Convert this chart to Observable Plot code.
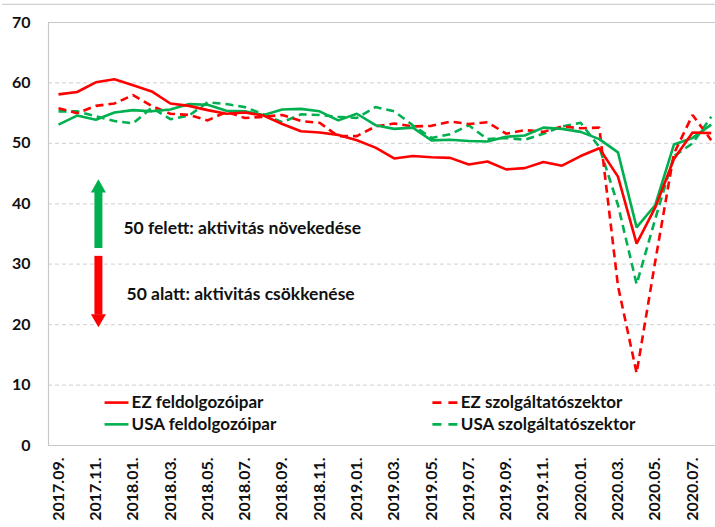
<!DOCTYPE html>
<html><head><meta charset="utf-8">
<script src="https://cdn.jsdelivr.net/npm/d3@7"></script>
<script src="https://cdn.jsdelivr.net/npm/@observablehq/plot@0.6"></script>
<style>body{margin:0;background:#fff;} svg{display:block}</style>
</head><body><div id="chart"></div>
<script>
const months = ["2017.09.","2017.10.","2017.11.","2017.12.",
 "2018.01.","2018.02.","2018.03.","2018.04.","2018.05.","2018.06.","2018.07.","2018.08.","2018.09.","2018.10.","2018.11.","2018.12.",
 "2019.01.","2019.02.","2019.03.","2019.04.","2019.05.","2019.06.","2019.07.","2019.08.","2019.09.","2019.10.","2019.11.","2019.12.",
 "2020.01.","2020.02.","2020.03.","2020.04.","2020.05.","2020.06.","2020.07.","2020.08."];
const ezMan = [58.1,58.5,60.1,60.6, 59.6,58.6,56.6,56.2,55.5,54.9,55.1,54.6,53.2,52.0,51.8,51.4, 50.5,49.3,47.5,47.9,47.7,47.6,46.5,47.0,45.7,45.9,46.9,46.3, 47.9,49.2,44.5,33.4,39.4,47.4,51.8,51.7];
const ezSer = [55.8,55.0,56.2,56.6, 58.0,56.2,54.9,54.7,53.8,55.2,54.2,54.4,54.7,53.7,53.4,51.2, 51.2,52.8,53.3,52.8,52.9,53.6,53.2,53.5,51.6,52.2,51.9,52.8, 52.5,52.6,26.4,12.0,30.5,48.3,54.7,50.5];
const usMan = [53.1,54.6,53.9,55.1, 55.5,55.3,55.6,56.5,56.4,55.4,55.3,54.7,55.6,55.7,55.3,53.8, 54.9,53.0,52.4,52.6,50.5,50.6,50.4,50.3,51.1,51.3,52.6,52.4, 51.9,50.7,48.5,36.1,39.8,49.8,50.9,53.1];
const usSer = [55.3,55.3,54.5,53.7, 53.3,55.9,54.0,54.6,56.8,56.5,56.0,54.8,53.5,54.8,54.7,54.4, 54.2,56.0,55.3,53.0,50.9,51.5,53.0,50.7,50.9,50.6,51.6,52.8, 53.4,49.4,39.8,26.7,37.5,47.9,50.0,54.4];
const seriesNames = ["EZ feldolgozóipar","EZ szolgáltatószektor","USA feldolgozóipar","USA szolgáltatószektor"];
const yTicks = [0,10,20,30,40,50,60,70];
const noteUp = "50 felett: aktivitás növekedése";
const noteDown = "50 alatt: aktivitás csökkenése";

const RED = "#ff0000", GREEN = "#00b050";
const styles = [
  {values: ezMan, color: RED, dash: null},
  {values: ezSer, color: RED, dash: "8,5"},
  {values: usMan, color: GREEN, dash: null},
  {values: usSer, color: GREEN, dash: "8,5"}
];
const FONT = "Lato, 'Open Sans', sans-serif";
const xTicks = months.map((m,i)=>i).filter(i=>i%2===0);

const lineMarks = [3,1,2,0].map(k => Plot.line(styles[k].values.map((v,i)=>({i,v})), {
  x:"i", y:"v", stroke: styles[k].color, strokeWidth: 2.6,
  strokeDasharray: styles[k].dash, strokeLinejoin:"miter", strokeLinecap: "butt"
}));

// legend
const legX = [[2.47,3.75,3.92],[20.05,21.4,21.57]];
const legY = [7.1, 3.5];
const legendMarks = seriesNames.flatMap((name,k)=>{
  const col = k%2, row = Math.floor(k/2);
  return [
    Plot.link([name], {x1:legX[col][0], x2:legX[col][1], y1:legY[row], y2:legY[row],
      stroke: styles[k].color, strokeWidth:2.6, strokeDasharray: styles[k].dash ? "9,7" : null}),
    Plot.text([name], {x:legX[col][2], y:legY[row], text:d=>d, textAnchor:"start",
      fontSize:17, fontWeight:"bold", fill:"#111"})
  ];
});

const chart = Plot.plot({
  width: 715, height: 527,
  marginLeft: 48, marginRight: 0, marginTop: 22, marginBottom: 82,
  style: {fontFamily: FONT, background: "#fff"},
  x: {type: "linear", domain: [-0.536, 35.23]},
  y: {domain: [0,70]},
  marks: [
    Plot.ruleY(yTicks.filter(t=>t>0 && t<70), {stroke:"#d9d9d9", strokeWidth:1.2, strokeDasharray:"4,3"}),
    Plot.ruleY([73], {x1:-3, x2:36, stroke:"#d0d0d0", strokeWidth:1.2}),
    Plot.ruleY([70], {stroke:"#c8c8c8", strokeWidth:1.2}),
    Plot.ruleY([0], {stroke:"#c8c8c8", strokeWidth:1.2}),
    Plot.ruleX([-0.536], {y1:0, y2:70, stroke:"#c8c8c8", strokeWidth:1.2}),
    ...lineMarks,
    // arrows
    Plot.ruleX([{x:2.14, a:32.6, b:41.9}], {x:"x", y1:"a", y2:"b", stroke:GREEN, strokeWidth:8}),
    Plot.dot([{x:2.14, y:42.6}], {x:"x", y:"y", symbol:"triangle", r:5.6, fill:GREEN}),
    Plot.ruleX([{x:2.14, a:31.3, b:21.6}], {x:"x", y1:"a", y2:"b", stroke:RED, strokeWidth:8}),
    Plot.dot([{x:2.14, y:21.0}], {x:"x", y:"y", symbol:"triangle", r:5.6, fill:RED, rotate:180}),
    Plot.text([noteUp], {x:3.48, y:35.9, text:d=>d, textAnchor:"start", fontSize:17.5, fontWeight:"bold", fill:"#111"}),
    Plot.text([noteDown], {x:3.65, y:25.0, text:d=>d, textAnchor:"start", fontSize:17.5, fontWeight:"bold", fill:"#111"}),
    ...legendMarks,
    Plot.axisY({ticks: yTicks, tickSize:0, tickPadding:18, fontSize:16, fontWeight:"bold", fill:"#111"}),
    Plot.axisX({ticks: xTicks, tickFormat: i=>months[i], tickRotate:-90, tickSize:0, tickPadding:12,
      fontSize:16, fontWeight:"bold", fill:"#111"})
  ]
});
document.getElementById("chart").appendChild(chart);
</script>
</body></html>
